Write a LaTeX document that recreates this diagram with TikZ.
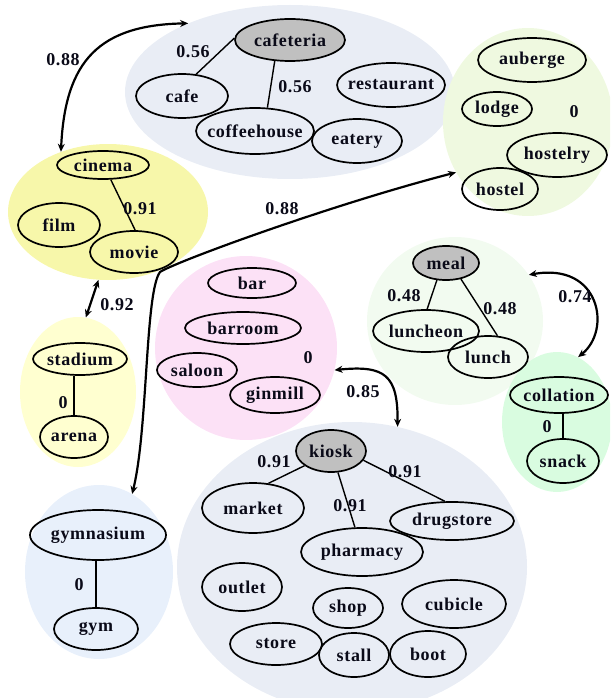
\documentclass[tikz,border=0pt]{standalone}
\usepackage{fontspec}
\setmainfont{Liberation Serif}
\usetikzlibrary{shapes.geometric,arrows.meta}
\definecolor{bgBlue}{RGB}{233,237,245}
\definecolor{bgGreenA}{RGB}{239,249,224}
\definecolor{bgYellow}{RGB}{247,247,170}
\definecolor{bgPaleY}{RGB}{255,255,208}
\definecolor{bgPink}{RGB}{252,225,246}
\definecolor{bgPaleG}{RGB}{242,251,240}
\definecolor{bgMint}{RGB}{217,252,224}
\definecolor{bgGym}{RGB}{232,240,251}
\definecolor{nodeGray}{RGB}{192,192,192}
\definecolor{txt}{RGB}{10,10,24}
\tikzset{
  grp/.style={ellipse, draw=none, inner sep=0pt},
  word/.style={ellipse, draw=black, line width=1.7pt, inner sep=0pt, text=txt,
    font=\bfseries\fontsize{18}{18}\selectfont\addfontfeature{LetterSpace=3.5},
    execute at begin node={\hbox to 0pt\bgroup\hss}, execute at end node={\hss\egroup}},
  hub/.style={word, fill=nodeGray},
  lab/.style={inner sep=0pt, text=txt, font=\bfseries\fontsize{18}{18}\selectfont\addfontfeature{LetterSpace=3.5}},
  edge/.style={line width=1.4pt},
  link/.style={line width=2.2pt, arrows={Stealth[length=8pt,width=7pt]-Stealth[length=8pt,width=7pt]}}
}
\begin{document}
\begin{tikzpicture}[x=1pt,y=-1pt]
\useasboundingbox (0,0) rectangle (610,698);
\clip (0,0) rectangle (610,698);
% group backgrounds
\node[grp, fill=bgBlue, minimum width=330pt, minimum height=174pt] (gCafe) at (290,92) {};
\node[grp, fill=bgGreenA, minimum width=170pt, minimum height=188pt] (gAuberge) at (528,122) {};
\node[grp, fill=bgYellow, minimum width=200pt, minimum height=136pt] (gCinema) at (108,212) {};
\node[grp, fill=bgPaleY, minimum width=116pt, minimum height=150pt] (gStadium) at (78,392) {};
\node[grp, fill=bgPink, minimum width=182pt, minimum height=184pt] (gBar) at (246,348) {};
\node[grp, fill=bgPaleG, minimum width=176pt, minimum height=168pt] (gMeal) at (455,321) {};
\node[grp, fill=bgMint, minimum width=110pt, minimum height=140pt] (gColl) at (557,422) {};
\node[grp, fill=bgBlue, minimum width=350pt, minimum height=290pt] (gKiosk) at (352,567) {};
\node[grp, fill=bgGym, minimum width=148pt, minimum height=174pt] (gGym) at (99,572) {};
% cafeteria group
\node[hub, minimum width=110pt, minimum height=42pt] (cafeteria) at (290,40) {cafeteria};
\node[word, minimum width=92pt, minimum height=44pt] (cafe) at (182,96) {cafe};
\node[word, minimum width=118pt, minimum height=46pt] (coffeehouse) at (255,131) {coffeehouse};
\node[word, minimum width=108pt, minimum height=44pt] (restaurant) at (391,85) {restaurant};
\node[word, minimum width=90pt, minimum height=44pt] (eatery) at (357,141) {eatery};
% auberge group
\node[word, minimum width=108pt, minimum height=44pt] (auberge) at (532,60) {auberge};
\node[word, minimum width=70pt, minimum height=34pt] (lodge) at (497,109) {lodge};
\node[word, minimum width=100pt, minimum height=44pt] (hostelry) at (557,155) {hostelry};
\node[word, minimum width=76pt, minimum height=42pt] (hostel) at (500,189) {hostel};
% cinema group
\node[word, minimum width=92pt, minimum height=28pt] (cinema) at (103,165) {cinema};
\node[word, minimum width=82pt, minimum height=44pt] (film) at (59,225) {film};
\node[word, minimum width=88pt, minimum height=42pt] (movie) at (134,252) {movie};
% stadium group
\node[word, minimum width=94pt, minimum height=32pt] (stadium) at (80,359) {stadium};
\node[word, minimum width=68pt, minimum height=42pt] (arena) at (74,437) {arena};
% bar group
\node[word, minimum width=88pt, minimum height=30pt] (bar) at (252,283) {bar};
\node[word, minimum width=116pt, minimum height=32pt] (barroom) at (243,328) {barroom};
\node[word, minimum width=80pt, minimum height=34pt] (saloon) at (197,370) {saloon};
\node[word, minimum width=90pt, minimum height=36pt] (ginmill) at (275,395) {ginmill};
% meal group
\node[hub, minimum width=66pt, minimum height=34pt] (meal) at (446,263) {meal};
\node[word, minimum width=106pt, minimum height=42pt] (luncheon) at (426,331) {luncheon};
\node[word, minimum width=80pt, minimum height=42pt] (lunch) at (488,357) {lunch};
% collation group
\node[word, minimum width=98pt, minimum height=36pt] (collation) at (559,395) {collation};
\node[word, minimum width=72pt, minimum height=44pt] (snack) at (563,461) {snack};
% kiosk group
\node[hub, minimum width=70pt, minimum height=42pt] (kiosk) at (331,451) {kiosk};
\node[word, minimum width=102pt, minimum height=50pt] (market) at (253,508) {market};
\node[word, minimum width=124pt, minimum height=38pt] (drugstore) at (452,521) {drugstore};
\node[word, minimum width=122pt, minimum height=48pt] (pharmacy) at (362,552) {pharmacy};
\node[word, minimum width=80pt, minimum height=48pt] (outlet) at (242,587) {outlet};
\node[word, minimum width=70pt, minimum height=40pt] (shop) at (348,608) {shop};
\node[word, minimum width=104pt, minimum height=48pt] (cubicle) at (454,604) {cubicle};
\node[word, minimum width=92pt, minimum height=42pt] (store) at (276,644) {store};
\node[word, minimum width=70pt, minimum height=44pt] (stall) at (354,655) {stall};
\node[word, minimum width=76pt, minimum height=46pt] (boot) at (428,654) {boot};
% gymnasium group
\node[word, minimum width=136pt, minimum height=50pt] (gymnasium) at (98,535) {gymnasium};
\node[word, minimum width=84pt, minimum height=42pt] (gym) at (96,629) {gym};
% edges inside groups
\draw[edge] (cafeteria.178) -- (cafe.57);
\draw[edge] (cafeteria.234) -- (coffeehouse.62);
\draw[edge] (cinema.298) -- (movie.87);
\draw[edge] (arena.north) -- (arena.north |- stadium.south);
\draw[edge] (meal.242) -- (luncheon.87);
\draw[edge] (meal.313) -- (lunch.66);
\draw[edge] (snack.north) -- (snack.north |- collation.south);
\draw[edge] (kiosk.209) -- (market.58);
\draw[edge] (kiosk.288) -- (pharmacy.106);
\draw[edge] (kiosk.344) -- (drugstore.110);
\draw[edge] (gym.north) -- (gym.north |- gymnasium.south);
% links between groups
\draw[link] (gCafe.146) .. controls (100,25) and (65,60) .. (gCinema.128);
\draw[link] (gCinema.262) -- (gStadium.84);
\draw[link] (gGym.67) .. controls (148,430) and (145,292) .. (160,272) .. controls (175,262) and (330,205) .. (gAuberge.215);
\draw[link] (gBar.346) .. controls (385,365) and (398,375) .. (gKiosk.72);
\draw[link] (gMeal.32) .. controls (600,262) and (612,330) .. (gColl.72);
% labels
\node[lab] (l1) at (63,60) {0.88};
\node[lab] (l2) at (193,52) {0.56};
\node[lab] (l3) at (295,87) {0.56};
\node[lab] (l4) at (574,112) {0};
\node[lab] (l5) at (140,209) {0.91};
\node[lab] (l6) at (282,209) {0.88};
\node[lab] (l7) at (117,305) {0.92};
\node[lab] (l8) at (63,403) {0};
\node[lab] (l9) at (308,358) {0};
\node[lab] (l10) at (404,296) {0.48};
\node[lab] (l11) at (500,309) {0.48};
\node[lab] (l12) at (575,297) {0.74};
\node[lab] (l13) at (363,392) {0.85};
\node[lab] (l14) at (547,427) {0};
\node[lab] (l15) at (274,462) {0.91};
\node[lab] (l16) at (350,506) {0.91};
\node[lab] (l17) at (405,472) {0.91};
\node[lab] (l18) at (79,585) {0};
\end{tikzpicture}
\end{document}
